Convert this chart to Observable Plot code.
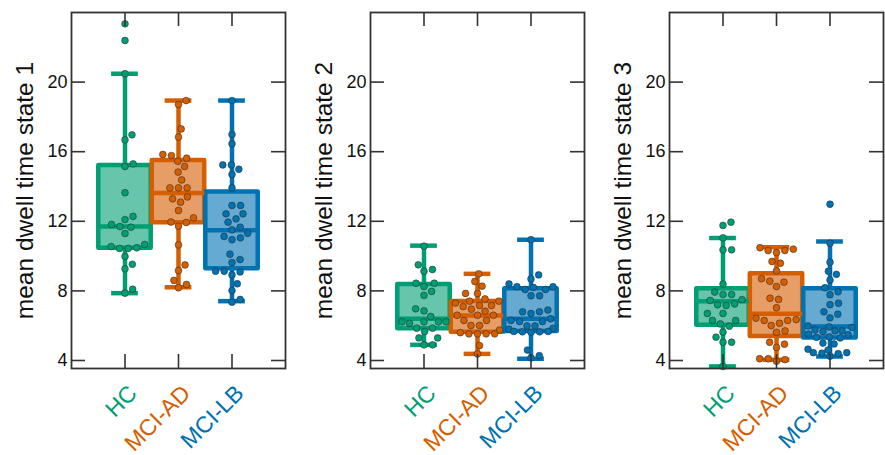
<!DOCTYPE html>
<html>
<head>
<meta charset="utf-8">
<script src="https://cdn.jsdelivr.net/npm/d3@7"></script>
<script src="https://cdn.jsdelivr.net/npm/@observablehq/plot@0.6"></script>
<style>
  html, body { margin: 0; padding: 0; background: #fff; overflow: hidden; }
  #wrap { position: relative; width: 885px; height: 455px; }
  .panel { position: absolute; top: 0; }
</style>
</head>
<body>
<div id="wrap"></div>
<script>
// ---- categories & labels ----
const groups = ["HC", "MCI-AD", "MCI-LB"];
const groupColors = ["#009E73", "#D55E00", "#0072B2"];
const yLabels = ["mean dwell time state 1", "mean dwell time state 2", "mean dwell time state 3"];
const yTicks = [4, 8, 12, 16, 20];
const yDomain = [3.54, 24];

// ---- individual subject values ----
const hc1 = [23.35, 22.39, 20.48, 16.97, 16.68, 15.30, 15.15, 13.64, 12.28, 12.10, 11.82, 11.70, 11.66, 11.30, 10.67, 10.55, 10.48, 10.44, 10.44, 9.98, 9.53, 9.27, 8.10, 7.87];
const ad1 = [18.94, 18.71, 17.31, 16.84, 15.84, 15.78, 15.63, 15.45, 15.15, 14.83, 14.38, 13.92, 13.92, 13.92, 13.40, 13.29, 13.10, 12.62, 12.20, 11.96, 11.93, 11.72, 10.64, 9.49, 9.17, 8.60, 8.37, 8.18];
const lb1 = [18.94, 16.99, 16.45, 15.24, 15.24, 14.99, 14.69, 13.92, 12.91, 12.91, 12.43, 12.43, 12.14, 11.95, 11.66, 11.51, 11.31, 11.13, 11.05, 10.94, 10.11, 9.80, 9.63, 9.13, 9.13, 9.09, 8.92, 8.41, 8.02, 7.51, 7.35];
const hc2 = [10.57, 9.50, 9.23, 9.13, 8.44, 8.44, 8.25, 7.97, 7.74, 6.97, 6.85, 6.53, 6.22, 6.22, 6.13, 6.22, 6.22, 5.86, 5.86, 5.67, 5.30, 5.30, 4.90, 4.90];
const ad2 = [8.98, 8.54, 8.27, 7.85, 7.85, 7.54, 7.41, 7.41, 7.30, 7.16, 7.16, 7.10, 6.95, 6.83, 6.60, 6.60, 6.60, 6.30, 6.30, 6.01, 6.01, 5.75, 5.60, 5.53, 5.53, 5.53, 5.53, 4.86, 4.38];
const lb2 = [10.94, 8.92, 8.69, 8.40, 8.24, 8.24, 8.20, 8.08, 8.08, 7.72, 7.72, 6.90, 6.80, 6.80, 6.70, 6.40, 6.30, 6.24, 6.24, 5.99, 5.99, 5.85, 5.80, 5.67, 5.67, 5.65, 5.65, 5.62, 4.60, 4.28, 4.15];
const hc3 = [11.95, 11.76, 11.05, 10.36, 10.36, 8.39, 7.93, 7.79, 7.79, 7.50, 7.45, 7.25, 7.20, 7.16, 6.70, 6.70, 6.30, 6.30, 6.10, 5.97, 5.63, 5.34, 5.05, 5.05, 3.66];
const ad3 = [10.48, 10.40, 10.32, 10.32, 10.20, 9.69, 9.59, 9.15, 8.70, 8.56, 8.50, 8.25, 7.58, 7.51, 7.03, 6.43, 6.35, 6.30, 6.30, 6.14, 6.01, 5.70, 5.62, 5.05, 4.94, 4.75, 4.10, 4.05, 4.10, 3.96];
const lb3 = [12.98, 10.74, 9.65, 9.13, 8.95, 8.62, 8.18, 7.95, 7.78, 7.29, 7.21, 6.80, 6.66, 6.45, 5.99, 5.93, 5.90, 5.75, 5.70, 5.70, 5.66, 5.52, 5.48, 5.36, 5.33, 5.30, 5.00, 4.95, 4.65, 4.60, 4.45, 4.42, 4.45, 4.40, 4.25];

// ---- box statistics per state (rows) and group (columns) ----
const whiskerLow  = [[7.87, 8.21, 7.41], [4.90, 4.38, 4.10], [3.66, 4.04, 4.23]];
const quart1      = [[10.45, 11.91, 9.27], [5.82, 5.63, 5.67], [6.03, 5.38, 5.29]];
const medians     = [[11.70, 13.62, 11.49], [6.40, 6.59, 6.40], [7.40, 6.68, 5.95]];
const quart3      = [[15.20, 15.49, 13.69], [8.37, 7.39, 8.12], [8.13, 8.98, 8.12]];
const whiskerHigh = [[20.48, 18.94, 18.94], [10.60, 8.98, 10.94], [11.04, 10.51, 10.84]];

const pointSets = [[hc1, ad1, lb1], [hc2, ad2, lb2], [hc3, ad3, lb3]];

// ---- layout ----
const H = 455, MT = 12, MB = 87, ML = 71;
const panelLeft = [0, 299, 598];
const panelWidth = [300, 300, 287];
const panelMR = [15, 15, 2];
const frameH = H - MT - MB;
const frameW = 214;
const step = frameW / 4;               // px per category unit
const K = frameH / (yDomain[1] - yDomain[0]); // px per y unit
const maxSpread = 22;

function lighten(c, t) {
  const col = d3.rgb(c);
  return d3.rgb(col.r + (255 - col.r) * t, col.g + (255 - col.g) * t, col.b + (255 - col.b) * t).formatHex();
}

// deterministic beeswarm layout (pixel offsets), clamped to the box width
function swarm(vals, d) {
  const order = vals.map((v, i) => i).sort((a, b) => vals[a] - vals[b]);
  const placed = [];
  const off = new Array(vals.length).fill(0);
  for (const i of order) {
    const y = vals[i] * K;
    const cands = [0];
    for (const p of placed) {
      const dy = y - p.y;
      if (Math.abs(dy) < d) {
        const dx = Math.sqrt(d * d - dy * dy);
        cands.push(p.x + dx + 0.01, p.x - dx - 0.01);
      }
    }
    cands.sort((a, b) => Math.abs(a) - Math.abs(b));
    let chosen = null;
    for (const c of cands) {
      if (Math.abs(c) > maxSpread) continue;
      if (placed.every(p => (p.x - c) ** 2 + (p.y - y) ** 2 >= d * d - 0.05)) { chosen = c; break; }
    }
    if (chosen === null) {
      // no free slot inside the box: pick the in-range spot with the largest clearance
      let best = 0, bestGap = -1;
      for (let c = -maxSpread; c <= maxSpread; c += 1) {
        const gap = Math.min(...placed.map(p => (p.x - c) ** 2 + (p.y - y) ** 2));
        if (gap > bestGap) { bestGap = gap; best = c; }
      }
      chosen = best;
    }
    off[i] = chosen; placed.push({x: chosen, y});
  }
  return off;
}

function panel(s) {
  const pts = [];
  groups.forEach((g, gi) => {
    const vals = pointSets[s][gi];
    const off = swarm(vals, 8.6);
    vals.forEach((v, j) => pts.push({gi, v, o: off[j]}));
  });
  const boxes = groups.map((g, gi) => ({
    gi, lo: whiskerLow[s][gi], q1: quart1[s][gi], med: medians[s][gi], q3: quart3[s][gi], hi: whiskerHigh[s][gi]
  }));
  const col = d => groupColors[d.gi];
  const light = d => lighten(groupColors[d.gi], 0.4);
  const axisColor = "#333";
  return Plot.plot({
    width: panelWidth[s], height: H,
    marginLeft: ML, marginRight: panelMR[s], marginTop: MT, marginBottom: MB,
    x: {type: "linear", domain: [-1, 3], axis: null},
    y: {domain: yDomain, axis: null},
    color: {type: "identity"},
    style: {fontFamily: "'Liberation Sans', Arial, sans-serif", color: "#111", background: "white", overflow: "visible"},
    marks: [
      Plot.ruleX(boxes, {x: "gi", y1: "lo", y2: "q1", stroke: col, strokeWidth: 4.5}),
      Plot.ruleX(boxes, {x: "gi", y1: "q3", y2: "hi", stroke: col, strokeWidth: 4.5}),
      Plot.ruleY(boxes, {y: "hi", x1: d => d.gi - 0.25, x2: d => d.gi + 0.25, stroke: col, strokeWidth: 4.5}),
      Plot.ruleY(boxes, {y: "lo", x1: d => d.gi - 0.25, x2: d => d.gi + 0.25, stroke: col, strokeWidth: 4.5}),
      Plot.rect(boxes, {x1: d => d.gi - 0.49, x2: d => d.gi + 0.49, y1: "q1", y2: "q3", fill: light, stroke: col, strokeWidth: 4.5, strokeLinejoin: "round"}),
      Plot.ruleY(boxes, {y: "med", x1: d => d.gi - 0.49, x2: d => d.gi + 0.49, stroke: col, strokeWidth: 4.5}),
      Plot.dot(pts, {x: d => d.gi + d.o / step, y: "v", r: 3.4, fill: col, stroke: "#2a2a2a", strokeOpacity: 0.75, strokeWidth: 0.7}),
      Plot.frame({stroke: axisColor, strokeWidth: 1.8}),
      Plot.tickY(yTicks, {y: d => d, insetRight: frameW - 14, stroke: axisColor, strokeWidth: 1.6}),
      Plot.tickY(yTicks, {y: d => d, insetLeft: frameW - 14, stroke: axisColor, strokeWidth: 1.6}),
      Plot.tickX([0, 1, 2], {x: d => d, insetBottom: frameH - 14, stroke: axisColor, strokeWidth: 1.6}),
      Plot.tickX([0, 1, 2], {x: d => d, insetTop: frameH - 14, stroke: axisColor, strokeWidth: 1.6}),
      Plot.text(yTicks, {y: d => d, text: d => String(d), frameAnchor: "left", textAnchor: "end", dx: -4, fontSize: 18, fill: "#111"}),
      Plot.text(groups, {x: (d, i) => i, text: d => d, frameAnchor: "bottom", rotate: -45, textAnchor: "end", lineAnchor: "middle", dx: 8, dy: 21, fontSize: 23, fill: (d, i) => groupColors[i]}),
      Plot.text([yLabels[s]], {text: d => d, frameAnchor: "left", textAnchor: "middle", lineAnchor: "middle", rotate: -90, dx: -46, fontSize: 24.5, fill: "#111"})
    ]
  });
}

const wrap = document.getElementById("wrap");
for (let s = 0; s < 3; s++) {
  const div = document.createElement("div");
  div.className = "panel";
  div.style.left = panelLeft[s] + "px";
  div.appendChild(panel(s));
  wrap.appendChild(div);
}
</script>
</body>
</html>
